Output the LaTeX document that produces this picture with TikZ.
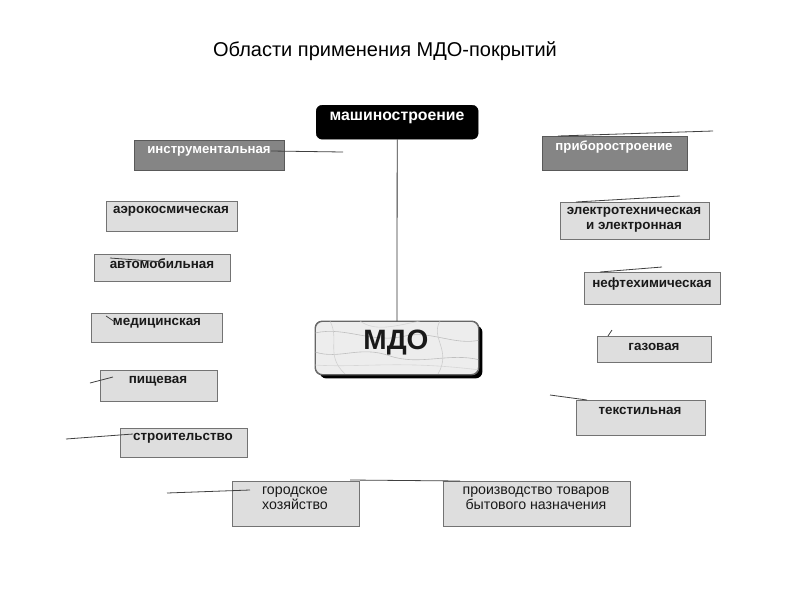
\documentclass[tikz,border=0pt]{standalone}
\usepackage{fontspec}
\setmainfont{Liberation Sans}
\usetikzlibrary{shadows}

\tikzset{
  lightbox/.style={draw=black!55, fill=black!13, line width=0.9pt, inner sep=0pt, anchor=north west},
  darkbox/.style={draw=black!65, fill=black!48, line width=0.9pt, inner sep=0pt, anchor=north west},
  boldtxt/.style={font=\fontsize{13.4}{15}\selectfont\bfseries, inner sep=0pt, align=center, text=black!90},
  plaintxt/.style={font=\fontsize{14.2}{15}\selectfont, inner sep=0pt, align=center, text=black!90},
  whitetxt/.style={font=\fontsize{13.2}{15}\selectfont\bfseries, inner sep=0pt, text=white},
  stray/.style={draw=black!75, line width=0.8pt},
  vein/.style={draw=black!25, line width=0.6pt},
}

\begin{document}
\begin{tikzpicture}[x=1pt,y=-1pt]
\useasboundingbox (0,0) rectangle (800,600);

% title
\node[font=\fontsize{20}{23}\selectfont, inner sep=0pt] (title) at (385,51) {Области применения МДО-покрытий};

% top of the tree
\node[draw=black, fill=black, rounded corners=6pt, minimum width=162pt, minimum height=34pt, anchor=north west] (mash) at (316,105) {};
\node[whitetxt, font=\fontsize{15.8}{17}\selectfont\bfseries] (mash-t) at (397,118) {машиностроение};

% centre box
\node[draw=black!60, fill=black!7, line width=0.9pt, rounded corners=7pt, minimum width=163pt, minimum height=53pt, anchor=north west,
  drop shadow={shadow xshift=4pt, shadow yshift=-4pt, fill=black, opacity=1}] (mdo) at (315,321) {};
\begin{scope}
\clip[rounded corners=7pt] (mdo.north west) rectangle (mdo.south east);
\draw[vein] (315,333) .. controls (345,326) and (372,344) .. (405,336) .. controls (430,330) and (455,346) .. (480,340);
\draw[vein] (315,352) .. controls (340,360) and (360,345) .. (390,356) .. controls (420,366) and (450,352) .. (480,360);
\draw[vein, black!18] (330,321) .. controls (340,340) and (325,355) .. (345,374);
\draw[vein, black!20] (440,321) .. controls (430,338) and (452,350) .. (438,374);
\draw[vein, black!16] (315,365) .. controls (360,368) and (400,360) .. (480,370);
\draw[vein, black!16] (360,321) .. controls (375,332) and (395,326) .. (420,321);
\end{scope}
\draw[black!60, line width=0.9pt, rounded corners=7pt] (mdo.north west) rectangle (mdo.south east);
\node[font=\fontsize{28}{30}\selectfont\bfseries, inner sep=0pt, text=black!90] (mdo-t) at (396,343) {МДО};

\draw[black!80, line width=0.8pt] (mash) -- (mdo);

% left column
\node[darkbox, minimum width=150pt, minimum height=30pt] (instr) at (134,140) {};
\node[whitetxt] (instr-t) at (209,151) {инструментальная};
\node[lightbox, minimum width=131pt, minimum height=30pt] (aero) at (106,201) {};
\node[boldtxt] (aero-t) at (171,211) {аэрокосмическая};
\node[lightbox, minimum width=136pt, minimum height=27pt] (auto) at (94,254) {};
\node[boldtxt] (auto-t) at (162,264) {автомобильная};
\node[lightbox, minimum width=131pt, minimum height=29pt] (medic) at (91,313) {};
\node[boldtxt] (medic-t) at (157,323) {медицинская};
\node[lightbox, minimum width=117pt, minimum height=31pt] (food) at (100,370) {};
\node[boldtxt] (food-t) at (158,381) {пищевая};
\node[lightbox, minimum width=127pt, minimum height=29pt] (build) at (120,428) {};
\node[boldtxt] (build-t) at (183,438) {строительство};

% bottom row
\node[lightbox, minimum width=127pt, minimum height=45pt] (city) at (232,481) {};
\node[plaintxt] (city-t) at (295,498) {городское\\хозяйство};
\node[lightbox, minimum width=187pt, minimum height=45pt] (goods) at (443,481) {};
\node[plaintxt] (goods-t) at (536,498) {производство товаров\\бытового назначения};

% right column
\node[darkbox, minimum width=145pt, minimum height=34pt] (pribor) at (542,136) {};
\node[whitetxt] (pribor-t) at (614,147) {приборостроение};
\node[lightbox, minimum width=149pt, minimum height=37pt] (elec) at (560,202) {};
\node[boldtxt] (elec-t) at (634,220) {электротехническая\\и электронная};
\node[lightbox, minimum width=136pt, minimum height=32pt] (petro) at (584,272) {};
\node[boldtxt] (petro-t) at (652,284) {нефтехимическая};
\node[lightbox, minimum width=114pt, minimum height=26pt] (gas) at (597,336) {};
\node[boldtxt] (gas-t) at (654,347) {газовая};
\node[lightbox, minimum width=129pt, minimum height=35pt] (textile) at (576,400) {};
\node[boldtxt] (textile-t) at (640,411) {текстильная};

% loose connector ends
\coordinate (instr-e) at (343,152);
\coordinate (pribor-e) at (713,131);
\coordinate (elec-e) at (680,196);
\coordinate (petro-e) at (662,267);
\coordinate (gas-e) at (612,330);
\coordinate (textile-e) at (550,395);
\coordinate (food-e) at (90,383);
\coordinate (build-e) at (66,439);
\coordinate (city-e) at (167,493);
\coordinate (goods-e) at (350,480);
\coordinate (auto-e) at (110,258);
\coordinate (medic-e) at (106,316);

\draw[stray] (instr-t.east) -- (instr-e);
\draw[stray] ([xshift=16pt]pribor.north west) -- (pribor-e);
\draw[stray] ([xshift=16pt]elec.north west) -- (elec-e);
\draw[stray] ([xshift=16pt]petro.north west) -- (petro-e);
\draw[stray] ([xshift=11pt]gas.north west) -- (gas-e);
\draw[stray] ([xshift=11pt]textile.north west) -- (textile-e);
\draw[stray] (food-e) -- ([xshift=13pt,yshift=-7pt]food.north west);
\draw[stray] (build-e) -- ([xshift=13pt,yshift=-6pt]build.north west);
\draw[stray] (city-e) -- ([xshift=18pt,yshift=-9pt]city.north west);
\draw[stray] (goods-e) -- ([xshift=17pt]goods.north west);
\draw[stray] (auto-e) -- ([xshift=70pt,yshift=-8pt]auto.north west);
\draw[stray] (medic-e) -- ([xshift=24pt,yshift=-9pt]medic.north west);
\end{tikzpicture}
\end{document}
